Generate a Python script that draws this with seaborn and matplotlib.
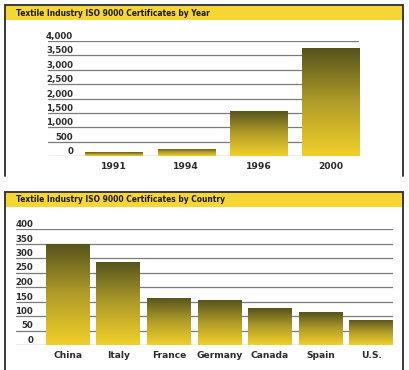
import numpy as np
import pandas as pd
import matplotlib
matplotlib.use("Agg")
import matplotlib.pyplot as plt
from matplotlib.colors import LinearSegmentedColormap
from matplotlib.patches import Rectangle
from matplotlib.lines import Line2D
from matplotlib.ticker import StrMethodFormatter
import seaborn as sns

# ---- data ----
years = ["1991", "1994", "1996", "2000"]
year_values = [130, 260, 1580, 3740]
year_ticks = [0, 500, 1000, 1500, 2000, 2500, 3000, 3500, 4000]

countries = ["China", "Italy", "France", "Germany", "Canada", "Spain", "U.S."]
country_values = [350, 287, 163, 154, 126, 113, 87]
country_ticks = [0, 50, 100, 150, 200, 250, 300, 350, 400]

title_year = "Textile Industry ISO 9000 Certificates by Year"
title_country = "Textile Industry ISO 9000 Certificates by Country"

# ---- style ----
sns.set_style("white")
plt.rcParams["font.family"] = ["DejaVu Sans"]

W, H = 409, 370
fig = plt.figure(figsize=(W / 100, H / 100), dpi=100)
fig.patch.set_facecolor("white")

TEXT = "#2b2b2b"
GRID = "#7a7a7a"
YELLOW = "#f6d633"
FRAME = "#2a2a2a"
cmap = LinearSegmentedColormap.from_list("olive", ["#f2d02a", "#b09c28", "#55531d"])


def px_axes(x0, y0, x1, y1):
    return fig.add_axes([x0 / W, 1 - y1 / H, (x1 - x0) / W, (y1 - y0) / H])


def fig_line(xs, ys):
    fig.add_artist(Line2D([x / W for x in xs], [1 - y / H for y in ys],
                          color=FRAME, lw=1.3, solid_joinstyle="miter"))


def strip(y0, y1, text):
    fig.add_artist(Rectangle((6 / W, 1 - y1 / H), (402 - 6) / W, (y1 - y0) / H,
                             facecolor=YELLOW, edgecolor="none"))
    fig.text(16 / W, 1 - (y0 + y1) / 2 / H, text, ha="left", va="center",
             fontsize=6.0, fontweight="bold", fontstretch="condensed",
             color="#1a1a1a", family=["DejaVu Sans"])


def gradient_bars(ax):
    for p in ax.patches:
        x, y = p.get_x(), p.get_y()
        w, h = p.get_width(), p.get_height()
        grad = np.linspace(0, 1, 256).reshape(-1, 1)
        im = ax.imshow(grad, cmap=cmap, aspect="auto", origin="lower",
                       extent=[x, x + w, y, y + h], zorder=3, interpolation="bicubic")
        im.set_clip_path(p)
        p.set_facecolor("none")
        p.set_edgecolor("none")


def style_axes(ax, ticks, ylabel_pad, xlim):
    ax.set_ylim(ticks[0], ticks[-1])
    ax.set_xlim(*xlim)
    ax.set_yticks(ticks)
    ax.yaxis.set_major_formatter(StrMethodFormatter("{x:,.0f}"))
    ax.grid(axis="y", color=GRID, lw=0.9)
    ax.grid(axis="x", visible=False)
    ax.set_axisbelow(True)
    for s in ax.spines.values():
        s.set_visible(False)
    ax.set_xlabel("")
    ax.set_ylabel("")
    ax.tick_params(axis="y", length=0, pad=ylabel_pad, labelsize=6.2, labelcolor=TEXT)
    ax.tick_params(axis="x", length=0, pad=4.5, labelsize=6.6, labelcolor=TEXT)
    for t in ax.get_yticklabels():
        t.set_fontweight("bold")
        t.set_va("bottom")
    for t in ax.get_xticklabels():
        t.set_fontweight("bold")
    ax.set_facecolor("none")


# ---- panel 1: by year ----
fig_line([5, 5, 403, 403], [176, 5, 5, 176])
strip(6, 20, title_year)
ax1 = px_axes(48, 41, 359, 156)
df1 = pd.DataFrame({"year": years, "value": year_values})
sns.barplot(data=df1, x="year", y="value", ax=ax1, width=0.79, color="#999933",
            saturation=1)
style_axes(ax1, year_ticks, -18, (-0.914, 3.393))
gradient_bars(ax1)

# ---- panel 2: by country ----
fig_line([5, 5, 403, 403], [370, 192, 192, 370])
strip(193, 207, title_country)
ax2 = px_axes(16, 229, 393, 345)
df2 = pd.DataFrame({"country": countries, "value": country_values})
sns.barplot(data=df2, x="country", y="value", ax=ax2, width=0.86, color="#999933",
            saturation=1)
style_axes(ax2, country_ticks, -12.3, (-1.02, 6.43))
gradient_bars(ax2)

fig.savefig("out.png", dpi=100)
